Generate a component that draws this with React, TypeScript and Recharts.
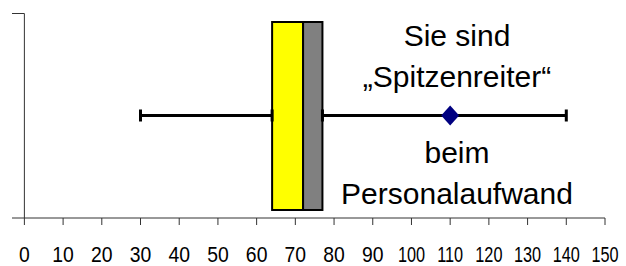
import { Bar, ComposedChart, ErrorBar, ReferenceArea, Scatter, XAxis, YAxis } from "recharts";

const categories = ["Personalaufwand"];
const whiskerLow = [30];
const q1 = [64];
const median = [72];
const q3 = [77];
const whiskerHigh = [140];
const ownValue = [110];
const xTicks = [0, 10, 20, 30, 40, 50, 60, 70, 80, 90, 100, 110, 120, 130, 140, 150];
const noteTop = ["Sie sind", "„Spitzenreiter“"];
const noteBottom = ["beim", "Personalaufwand"];

const boxData = categories.map((c, i) => ({
  category: c,
  base: q1[i],
  lower: median[i] - q1[i],
  upper: q3[i] - median[i],
}));
const lowWhisker = categories.map((c, i) => ({ category: c, pos: q1[i], err: [q1[i] - whiskerLow[i], 0] }));
const highWhisker = categories.map((c, i) => ({ category: c, pos: q3[i], err: [0, whiskerHigh[i] - q3[i]] }));
const pointData = categories.map((c, i) => ({ category: c, pos: ownValue[i] }));

const sans = "'Liberation Sans', Arial, sans-serif";
// axis lines stick out a little to the left of the zero line, like the old Excel chart
const stub = 3.2;

const Diamond = (props: any) => {
  const { cx, cy } = props;
  if (cx == null || cy == null) return <g />;
  return <polygon points={`${cx - 9},${cy} ${cx},${cy - 10} ${cx + 9},${cy} ${cx},${cy + 10}`} fill="#000080" />;
};

const Empty = () => <g />;

// y axis line plus the short top tick
const Frame = (props: any) => {
  const { x, y, width, height } = props;
  return <path d={`M${x},${y + 0.5}H${x + width}V${y + height}`} fill="none" stroke="#333" />;
};

// condensed tick labels, the 3-digit ones squeezed a bit more
const NarrowTick = (props: any) => {
  const { x, y, payload } = props;
  const sx = String(payload.value).length > 2 ? 0.74 : 0.88;
  return (
    <text
      transform={`translate(${x},${y}) scale(${sx},1)`}
      textAnchor="middle"
      dy="0.71em"
      fontFamily={sans}
      fontSize={22}
      fill="#000"
    >
      {payload.value}
    </text>
  );
};

const noteStyle: React.CSSProperties = {
  position: "absolute",
  left: 307,
  width: 300,
  textAlign: "center",
  fontFamily: sans,
  fontSize: 30,
  lineHeight: "41px",
  color: "#000",
};

export default function App() {
  return (
    <div style={{ position: "absolute", left: 0, top: 0, width: 626, height: 266, background: "#fff" }}>
      <ComposedChart
        width={626}
        height={266}
        data={boxData}
        layout="vertical"
        margin={{ top: 13, right: 21, bottom: 0, left: 12 }}
      >
        <XAxis
          type="number"
          domain={[-stub, 150]}
          ticks={xTicks}
          interval={0}
          allowDataOverflow
          height={48}
          tickSize={7}
          tickMargin={21}
          axisLine={{ stroke: "#333" }}
          tickLine={{ stroke: "#333" }}
          tick={<NarrowTick />}
        />
        <YAxis yAxisId="cat" type="category" dataKey="category" allowDuplicatedCategory={false} hide />
        <ReferenceArea yAxisId="cat" x1={-stub} x2={0} shape={Frame} />
        <Scatter yAxisId="cat" data={lowWhisker} dataKey="pos" shape={Empty} isAnimationActive={false}>
          <ErrorBar dataKey="err" direction="x" width={6} stroke="#000" strokeWidth={3} />
        </Scatter>
        <Scatter yAxisId="cat" data={highWhisker} dataKey="pos" shape={Empty} isAnimationActive={false}>
          <ErrorBar dataKey="err" direction="x" width={6} stroke="#000" strokeWidth={3} />
        </Scatter>
        <Bar yAxisId="cat" dataKey="base" stackId="box" fill="none" barSize={188} isAnimationActive={false} />
        <Bar yAxisId="cat" dataKey="lower" stackId="box" fill="#FFFF00" stroke="#000" strokeWidth={2} barSize={188} isAnimationActive={false} />
        <Bar yAxisId="cat" dataKey="upper" stackId="box" fill="#808080" stroke="#000" strokeWidth={2} barSize={188} isAnimationActive={false} />
        <Scatter yAxisId="cat" data={pointData} dataKey="pos" shape={Diamond} isAnimationActive={false} />
      </ComposedChart>
      <div style={{ ...noteStyle, top: 15 }}>
        {noteTop.map((t) => (
          <div key={t}>{t}</div>
        ))}
      </div>
      <div style={{ ...noteStyle, top: 132 }}>
        {noteBottom.map((t) => (
          <div key={t}>{t}</div>
        ))}
      </div>
    </div>
  );
}
